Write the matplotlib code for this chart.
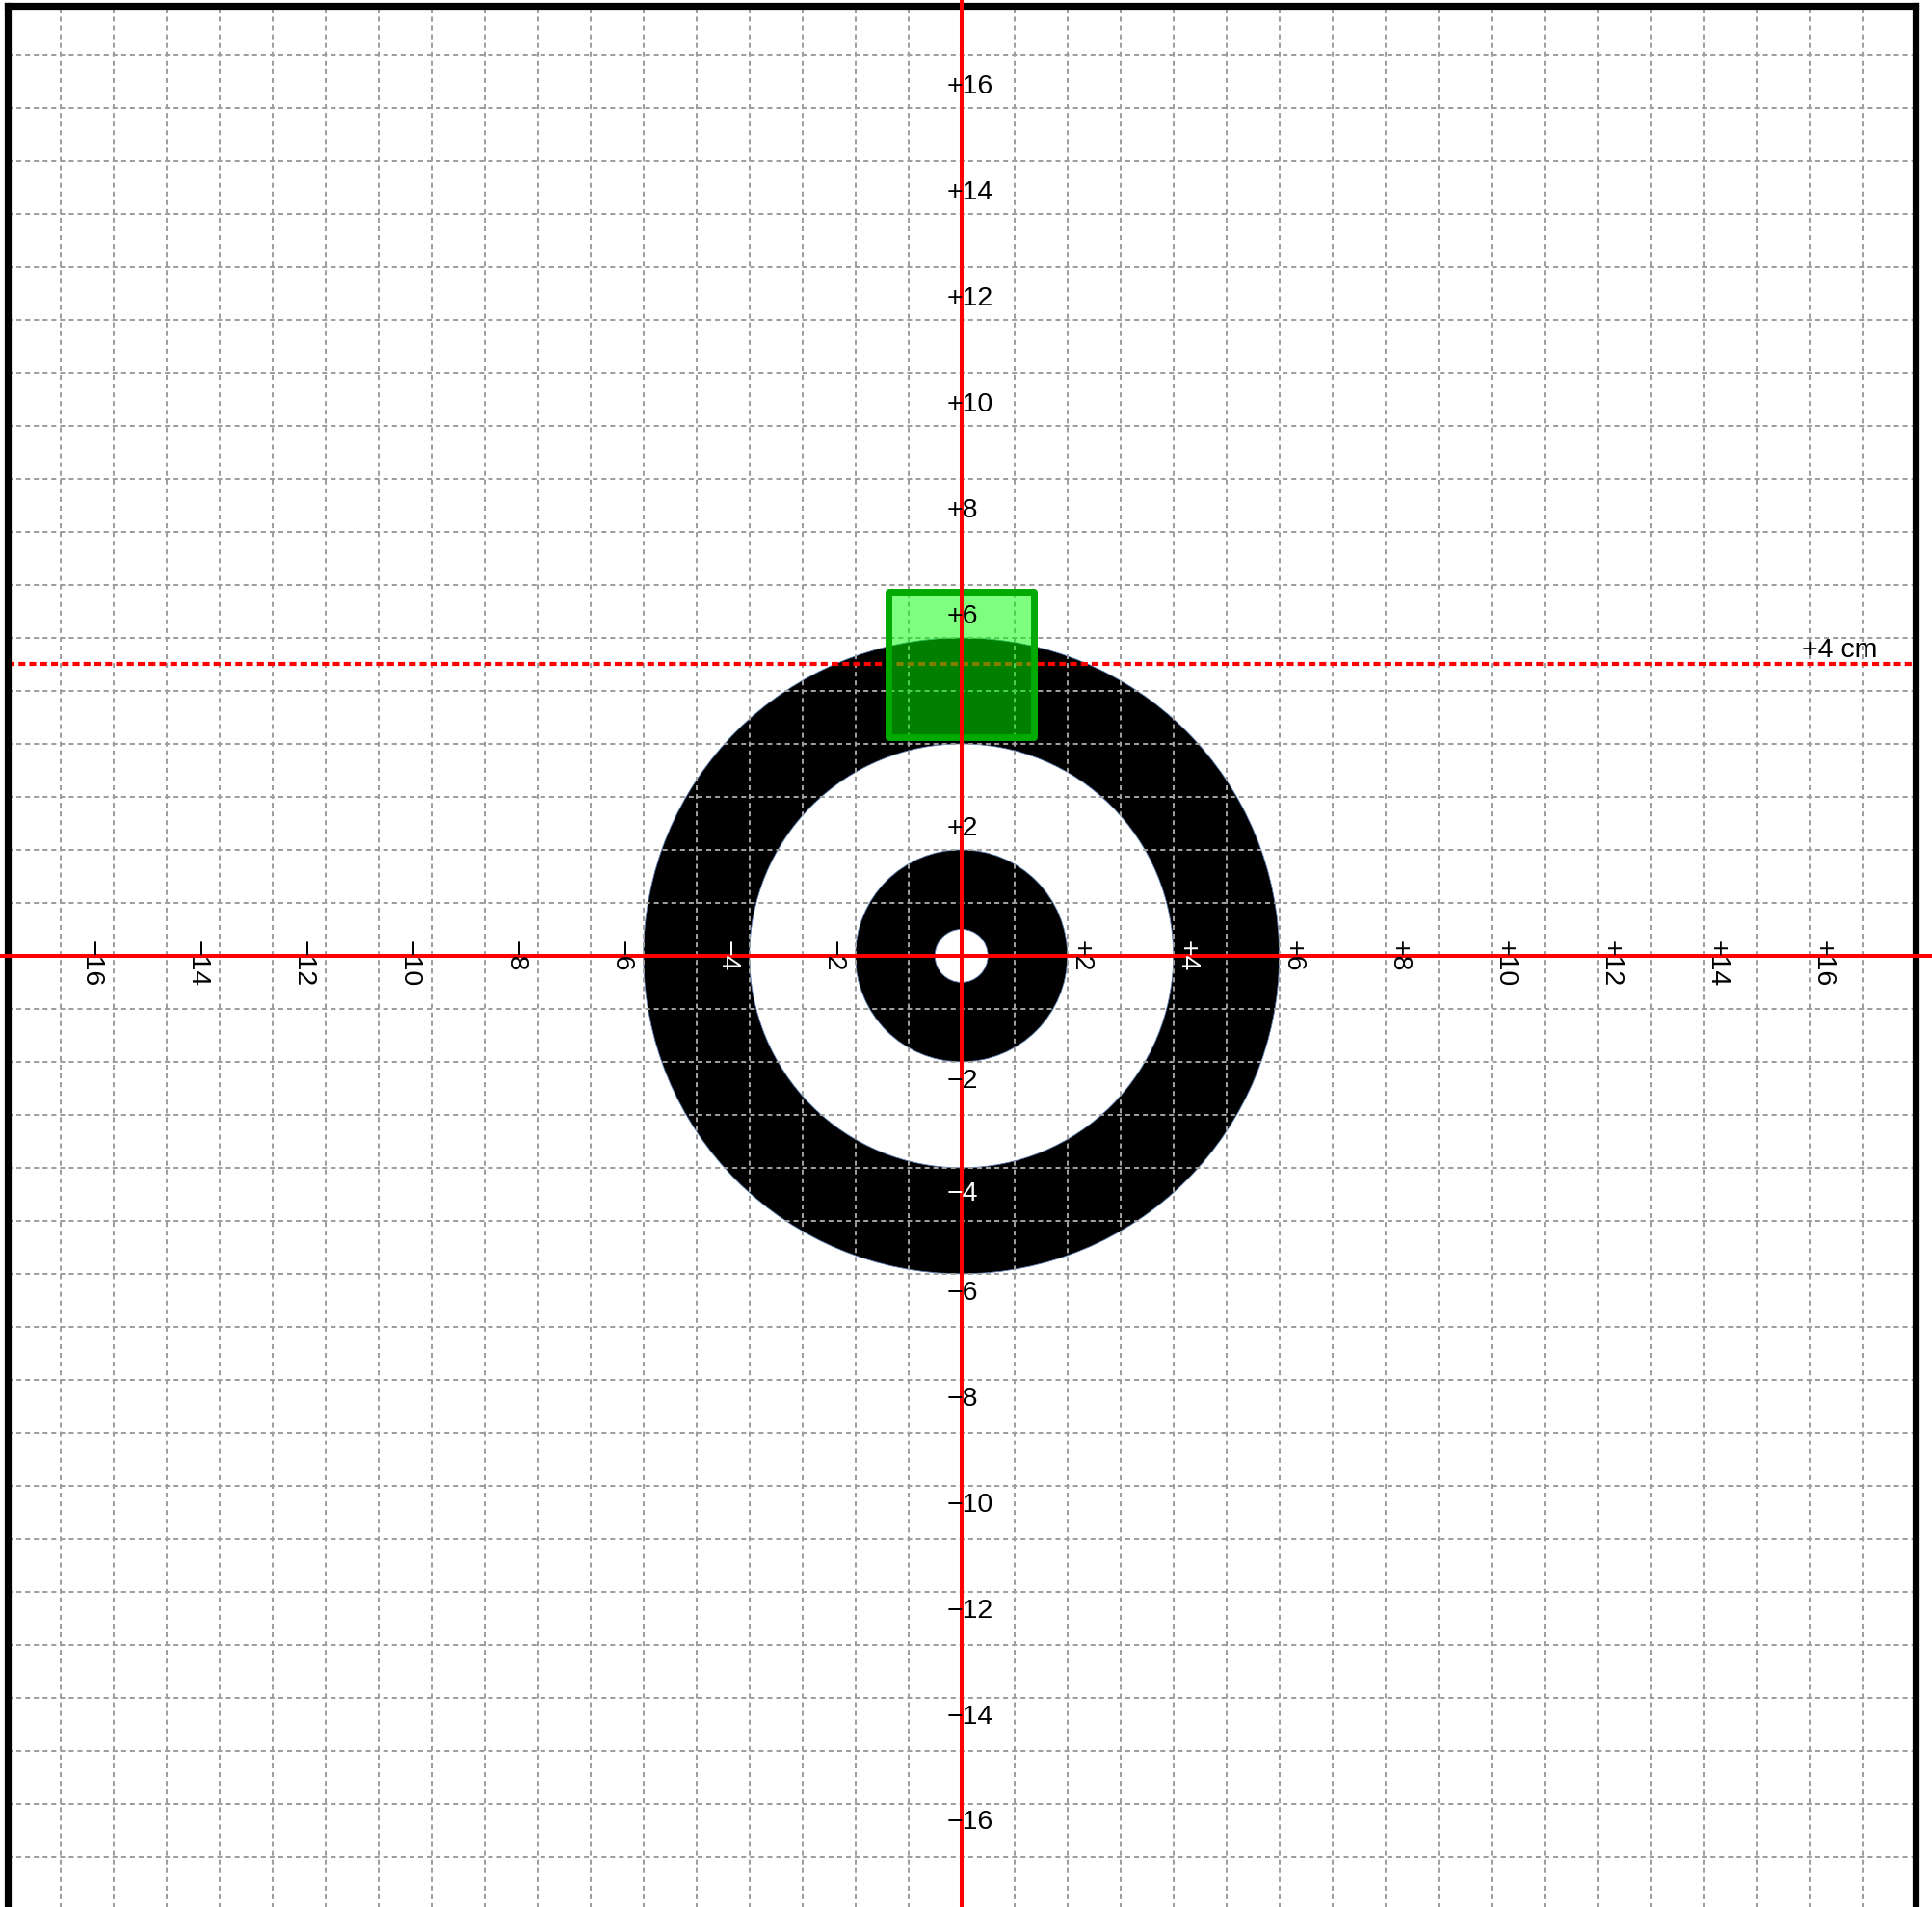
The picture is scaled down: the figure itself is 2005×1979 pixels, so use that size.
import matplotlib
matplotlib.use("Agg")
import matplotlib.pyplot as plt
import numpy as np
from matplotlib.patches import Circle, Rectangle
from matplotlib.transforms import blended_transform_factory

plt.rcParams['font.family'] = ['Liberation Sans', 'DejaVu Sans']

# target rings: (radius, fill), drawn largest first
ring_radii = [6, 4, 2, 0.5]
ring_colors = ["black", "white", "black", "white"]

# axis labels (cm)
x_label_values = [-16, -14, -12, -10, -8, -6, -4, -2, 2, 4, 6, 8, 10, 12, 14, 16]
y_label_values = [16, 14, 12, 10, 8, 6, 2, -2, -4, -6, -8, -10, -12, -14, -16]

# marked level and the shot square
line_level = 5.5
line_label = "+4 cm"
square_center = (0.0, 5.5)
square_side = 2.74

W, H, DPI = 2005, 1979, 100
FS = 20.5
fig = plt.figure(figsize=(W / DPI, H / DPI), dpi=DPI)
# axes box in pixels: left 8, top 6, 1979.5 square (bottom runs off the page)
side = 1979.5
ax = fig.add_axes([8 / W, (H - 6 - side) / H, side / W, side / H])
ax.set_xlim(-18, 18)
ax.set_ylim(-18.07, 17.93)
ax.set_aspect("auto")

for sp in ax.spines.values():
    sp.set_linewidth(5.2)
    sp.set_color("black")
    sp.set_zorder(4)

# target
for r, c in zip(ring_radii, ring_colors):
    ax.add_patch(Circle((0, 0), r, facecolor=c, edgecolor="#5b7fb5", lw=0.6, zorder=1))

def bg_color(x, y):
    # colour of the ring under a point (white outside the target)
    d = np.hypot(x, y)
    col = "white"
    for r, c in zip(ring_radii, ring_colors):
        if d <= r:
            col = c
    return col

# dashed cm grid on top of the target
ticks = np.arange(-17, 18)
ax.set_xticks(ticks)
ax.set_yticks(ticks)
ax.tick_params(length=0, labelbottom=False, labelleft=False)
ax.set_axisbelow(False)
ax.grid(True, color="#9e9e9e", lw=1.45, linestyle=(0, (2.5, 2.0)))

# red dotted level line
ax.axhline(line_level, color="#ff0000", lw=3.0, linestyle=(0, (1.7, 1.0)), zorder=3)
ax.text(17.28, line_level + 0.14, line_label, ha="right", va="baseline", fontsize=FS, zorder=6)

# shot square
sx, sy = square_center
ax.add_patch(Rectangle((sx - square_side / 2, sy - square_side / 2), square_side, square_side,
                       facecolor=(0, 1, 0, 0.5), edgecolor="#00aa00", lw=5,
                       joinstyle="round", zorder=3))

# red axes crossing the whole page
tr_h = blended_transform_factory(fig.transFigure, ax.transData)
tr_v = blended_transform_factory(ax.transData, fig.transFigure)
ax.plot([0, 1], [0, 0], color="#ff0000", lw=2.9, transform=tr_h, clip_on=False, zorder=5)
ax.plot([0, 0], [0, 1], color="#ff0000", lw=2.9, transform=tr_v, clip_on=False, zorder=5)

def fmt(v):
    return ("+" if v > 0 else "\u2212") + str(abs(v))

for v in y_label_values:
    off = 0.4 if v > 0 else -0.36
    if v == -4:
        off = -0.5
    ty = v + off
    c = "white" if bg_color(0.3, ty) == "black" else "black"
    ax.text(-0.27, ty, fmt(v), ha="left", va="center", fontsize=FS, color=c, zorder=6)

for v in x_label_values:
    off = 0.26 if v > 0 else -0.43
    tx = v + off
    c = "white" if bg_color(tx, -0.3) == "black" else "black"
    ax.text(tx, 0.29, fmt(v), ha="center", va="top", rotation=-90,
            fontsize=FS, color=c, zorder=6)

fig.savefig("out.png", dpi=DPI)
